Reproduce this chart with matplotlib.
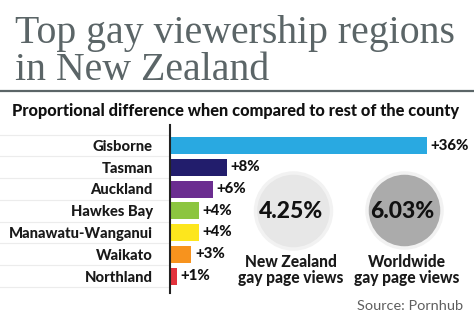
import matplotlib
matplotlib.use("Agg")
import matplotlib.pyplot as plt
from matplotlib.patches import Circle

# Data
regions = ["Gisborne", "Tasman", "Auckland", "Hawkes Bay",
           "Manawatu-Wanganui", "Waikato", "Northland"]
diff_pct = [36, 8, 6, 4, 4, 3, 1]
bar_colors = ["#29a9e1", "#221d6c", "#6b2d90", "#8cc540",
              "#fde61d", "#f7931e", "#e2323c"]
nz_share = 4.25
world_share = 6.03

title = "Top gay viewership regions\nin New Zealand"
subtitle = "Proportional difference when compared to rest of the county"
source = "Source: Pornhub"

W, H = 474, 325
fig = plt.figure(figsize=(W / 100, H / 100), dpi=100)
fig.patch.set_facecolor("white")

SANS = "Lato"
HEAVY = "black"
GREY_TITLE = "#5b6567"

# Overlay axes in pixel coordinates (y down)
ov = fig.add_axes([0, 0, 1, 1])
ov.set_xlim(0, W)
ov.set_ylim(H, 0)
ov.axis("off")
renderer = fig.canvas.get_renderer()


def fit_width(txt, target_px):
    """Scale a text's font size so its rendered width equals target_px."""
    w = txt.get_window_extent(renderer).width
    txt.set_fontsize(txt.get_fontsize() * target_px / w)


line1, line2 = title.split("\n")
t1 = ov.text(15, 43.5, line1, family="Liberation Serif",
             fontsize=27, color=GREY_TITLE, va="baseline", ha="left")
fit_width(t1, 440)
ov.text(15, 80.5, line2, family="Liberation Serif",
        fontsize=t1.get_fontsize(), color=GREY_TITLE, va="baseline", ha="left")
ov.plot([0, W], [90.5, 90.5], color=GREY_TITLE, lw=1.6, solid_capstyle="butt")

st = ov.text(12, 116, subtitle, family=SANS, fontweight=HEAVY, fontsize=11,
             color="#111111", va="baseline", ha="left")
fit_width(st, 450)

# Bar chart axes: zero line at x=170px, rows between y=125..293px
ax_left, ax_right = 170, W
ax_top, ax_bot = 125, 293
ax = fig.add_axes([ax_left / W, 1 - ax_bot / H,
                   (ax_right - ax_left) / W, (ax_bot - ax_top) / H])
px_per_pct = (427 - 170) / 36.0
ax.set_xlim(0, (ax_right - ax_left) / px_per_pct)
row_px = 21.75
ax.set_ylim(6 + (293 - 276) / row_px, -(145.5 - 125) / row_px)
ax.patch.set_alpha(0)

ypos = list(range(len(regions)))
ax.barh(ypos, diff_pct, height=17 / row_px, color=bar_colors, zorder=2)
for y, v in zip(ypos, diff_pct):
    ax.text(v + 0.5, y, f"+{v}%", family=SANS, fontweight=HEAVY,
            fontsize=10.8, color="#111111", va="center", ha="left")

ax.set_yticks(ypos)
ax.set_yticklabels(regions, family=SANS, fontweight=HEAVY, fontsize=10.6,
                   color="#1a1a1a")
ax.tick_params(axis="y", length=0, pad=12.5)
ax.set_xticks([])
for side in ["top", "right", "bottom"]:
    ax.spines[side].set_visible(False)
ax.spines["left"].set_color("#222222")
ax.spines["left"].set_linewidth(1.5)

# faint row separators to the left of the zero line
for b in [y - 0.5 for y in ypos] + [ypos[-1] + 0.5]:
    ov.plot([0, 169], [145.5 + b * row_px, 145.5 + b * row_px],
            color="#ececec", lw=0.8, zorder=0)

# Share circles
for cx, cy, r, fc, val, lab, dx in [
        (293.5, 211, 38, "#e7e7e7", nz_share, "New Zealand", -3),
        (404.5, 210.5, 37.5, "#ababab", world_share, "Worldwide", 2)]:
    ov.add_patch(Circle((cx, cy), r, facecolor=fc, edgecolor="#f2f2f2",
                        lw=2.5, zorder=1))
    ov.text(cx - 2, cy + 1, f"{val:.2f}%", family=SANS, fontweight=HEAVY,
            fontsize=16.5, color="#111111", ha="center", va="center", zorder=3)
    ov.text(cx + dx, 262, lab, family=SANS, fontweight=HEAVY, fontsize=11.2,
            color="#1a1a1a", ha="center", va="center")
    ov.text(cx + dx, 277.5, "gay page views", family=SANS, fontweight=HEAVY,
            fontsize=11.2, color="#1a1a1a", ha="center", va="center")

src = ov.text(463, 306, source, family=SANS, fontweight="normal", fontsize=11,
              color="#5e5e5e", ha="right", va="center")
fit_width(src, 106)

fig.savefig("out.png", dpi=100, facecolor="white")
